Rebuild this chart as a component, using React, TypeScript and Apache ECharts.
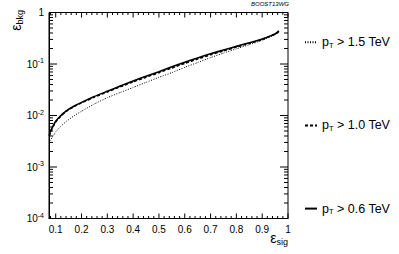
import React, { useEffect, useRef } from "react";
import * as echarts from "echarts";

const effSig = [0.075, 0.08, 0.09, 0.1, 0.12, 0.14, 0.17, 0.2, 0.25, 0.3, 0.35, 0.4, 0.45, 0.5, 0.55, 0.6, 0.65, 0.7, 0.75, 0.8, 0.85, 0.9, 0.95, 0.965];
const bkgPt06 = [0.0042, 0.005, 0.0063, 0.0077, 0.01, 0.0122, 0.0151, 0.018, 0.0234, 0.0295, 0.0372, 0.0468, 0.058, 0.071, 0.088, 0.108, 0.131, 0.158, 0.187, 0.22, 0.258, 0.305, 0.385, 0.44];
const bkgPt10 = [0.004, 0.0048, 0.0061, 0.0075, 0.0098, 0.012, 0.0148, 0.0176, 0.0228, 0.0287, 0.0362, 0.0452, 0.0555, 0.068, 0.084, 0.103, 0.125, 0.151, 0.18, 0.213, 0.252, 0.3, 0.38, 0.43];
const bkgPt15 = [0.0029, 0.0033, 0.004, 0.0048, 0.0062, 0.0076, 0.0098, 0.0121, 0.0168, 0.0222, 0.028, 0.035, 0.044, 0.055, 0.068, 0.086, 0.107, 0.133, 0.163, 0.197, 0.238, 0.288, 0.37, 0.43];

const xTickLabels = [0.1, 0.2, 0.3, 0.4, 0.5, 0.6, 0.7, 0.8, 0.9, 1];
const yTickLabels = [0.0001, 0.001, 0.01, 0.1, 1];
const seriesNames = ["1.5", "1.0", "0.6"];

const X_MIN = 0.074;
const X_MAX = 1;
const Y_MIN = 0.0001;
const Y_MAX = 1;
const FONT = "Liberation Sans, Arial, Helvetica, sans-serif";

function buildTicks(): number[][] {
  const ticks: number[][] = [];
  for (let i = 4; i <= 50; i++) {
    const v = i * 0.02;
    if (v < X_MIN - 1e-9 || v > X_MAX + 1e-9) continue;
    const major = i % 5 === 0;
    ticks.push([0, +v.toFixed(3), major ? 5 : 2.5]);
  }
  for (let e = -4; e <= 0; e++) {
    const base = Math.pow(10, e);
    ticks.push([1, base, 8]);
    if (e < 0) {
      for (let m = 2; m <= 9; m++) ticks.push([1, +(m * base).toPrecision(3), 4]);
    }
  }
  return ticks;
}

function label(name: string) {
  return `{p|p}{t|T}{r| > ${name} TeV}`;
}

export default function App() {
  const ref = useRef<HTMLDivElement>(null);
  useEffect(() => {
    if (!ref.current) return;
    document.body.style.margin = "0";
    const chart = echarts.init(ref.current, undefined, { renderer: "svg" });
    const mk = (arr: number[]) => effSig.map((x, i) => [x, arr[i]]);
    const legendNames = seriesNames.map((n) => label(n));
    const option: any = {
      animation: false,
      backgroundColor: "#fff",
      textStyle: { fontFamily: FONT },
      grid: {
        left: 49,
        right: 111,
        top: 12.5,
        bottom: 35.5,
        show: true,
        borderColor: "#000",
        borderWidth: 1,
        containLabel: false,
        outerBoundsMode: "none",
      },
      xAxis: {
        type: "value",
        min: X_MIN,
        max: X_MAX,
        axisLine: { show: true, onZero: false, lineStyle: { color: "#000", width: 1 } },
        axisTick: { show: false },
        splitLine: { show: false },
        axisLabel: {
          customValues: xTickLabels,
          color: "#000",
          fontSize: 10,
          fontFamily: FONT,
          margin: 6,
          formatter: (v: number) => (Math.abs(v - 1) < 1e-9 ? "1" : v.toFixed(1)),
        },
      },
      yAxis: {
        type: "log",
        logBase: 10,
        min: Y_MIN,
        max: Y_MAX,
        axisLine: { show: true, lineStyle: { color: "#000", width: 1 } },
        axisTick: { show: false },
        splitLine: { show: false },
        minorTick: { show: false },
        axisLabel: {
          customValues: yTickLabels,
          color: "#000",
          margin: 5,
          fontFamily: FONT,
          formatter: (v: number) => {
            const e = Math.round(Math.log10(v));
            if (e === 0) return "{b|1}";
            return `{b|10}{s|${e}}`;
          },
          rich: {
            b: { fontSize: 10, fontFamily: FONT, color: "#000", lineHeight: 14, verticalAlign: "middle" },
            s: { fontSize: 7, fontFamily: FONT, color: "#000", lineHeight: 7, verticalAlign: "top" },
          },
        },
      },
      legend: {
        orient: "vertical",
        left: 304,
        top: 35.7,
        padding: 0,
        itemWidth: 12,
        itemHeight: 14,
        itemGap: 69.7,
        selectedMode: false,
        data: legendNames,
        itemStyle: { color: "rgba(0,0,0,0)", opacity: 0, borderWidth: 0 },
        textStyle: {
          color: "#000",
          fontFamily: FONT,
          rich: {
            p: { fontSize: 12.5, fontFamily: FONT, color: "#000", lineHeight: 14, verticalAlign: "middle" },
            t: { fontSize: 7.5, fontFamily: FONT, color: "#000", lineHeight: 7, verticalAlign: "bottom" },
            r: { fontSize: 12.5, fontFamily: FONT, color: "#000", lineHeight: 14, verticalAlign: "middle" },
          },
        },
      },
      graphic: [
        {
          type: "text",
          x: 8,
          y: 10,
          rotation: Math.PI / 2,
          style: {
            text: "{e|ε}{s|bkg}",
            align: "right",
            verticalAlign: "top",
            rich: {
              e: { fontSize: 14, fontFamily: FONT, fill: "#000", lineHeight: 16, verticalAlign: "middle" },
              s: { fontSize: 9, fontFamily: FONT, fill: "#000", lineHeight: 9, verticalAlign: "bottom" },
            },
          },
        },
        {
          type: "text",
          x: 288,
          y: 230,
          style: {
            text: "{e|ε}{s|sig}",
            align: "right",
            verticalAlign: "top",
            rich: {
              e: { fontSize: 14, fontFamily: FONT, fill: "#000", lineHeight: 16, verticalAlign: "middle" },
              s: { fontSize: 9, fontFamily: FONT, fill: "#000", lineHeight: 9, verticalAlign: "bottom" },
            },
          },
        },
        {
          type: "text",
          x: 289,
          y: 1,
          style: {
            text: "BOOST13WG",
            align: "right",
            verticalAlign: "top",
            fontSize: 6,
            fontStyle: "italic",
            fontFamily: FONT,
            fill: "#000",
          },
        },
      ],
      series: [
        {
          name: legendNames[0],
          type: "line",
          data: mk(bkgPt15),
          symbol: "none",
          smooth: 0.15,
          lineStyle: { color: "#000", width: 1, type: [1, 1.5] },
          itemStyle: { color: "#000" },
          z: 3,
        },
        {
          name: legendNames[1],
          type: "line",
          data: mk(bkgPt10),
          symbol: "none",
          smooth: 0.15,
          lineStyle: { color: "#000", width: 1.6, type: [3, 2] },
          itemStyle: { color: "#000" },
          z: 4,
        },
        {
          name: legendNames[2],
          type: "line",
          data: mk(bkgPt06),
          symbol: "none",
          smooth: 0.15,
          lineStyle: { color: "#000", width: 1.6, type: "solid" },
          itemStyle: { color: "#000" },
          z: 5,
        },
        {
          type: "custom",
          silent: true,
          clip: false,
          data: buildTicks(),
          encode: { x: 1, y: 1 },
          renderItem: (params: any, api: any) => {
            const kind = api.value(0);
            const v = api.value(1);
            const len = api.value(2);
            const st = { stroke: "#000", lineWidth: 1 };
            if (kind === 0) {
              const b = api.coord([v, Y_MIN]);
              const t = api.coord([v, Y_MAX]);
              return {
                type: "group",
                children: [
                  { type: "line", shape: { x1: b[0], y1: b[1], x2: b[0], y2: b[1] - len }, style: st },
                  { type: "line", shape: { x1: t[0], y1: t[1], x2: t[0], y2: t[1] + len }, style: st },
                ],
              };
            }
            const l = api.coord([X_MIN, v]);
            const r = api.coord([X_MAX, v]);
            return {
              type: "group",
              children: [
                { type: "line", shape: { x1: l[0], y1: l[1], x2: l[0] + len, y2: l[1] }, style: st },
                { type: "line", shape: { x1: r[0], y1: r[1], x2: r[0] - len, y2: r[1] }, style: st },
              ],
            };
          },
        },
      ],
    };
    chart.setOption(option);
    return () => chart.dispose();
  }, []);
  return <div ref={ref} style={{ width: 399, height: 254 }} />;
}
